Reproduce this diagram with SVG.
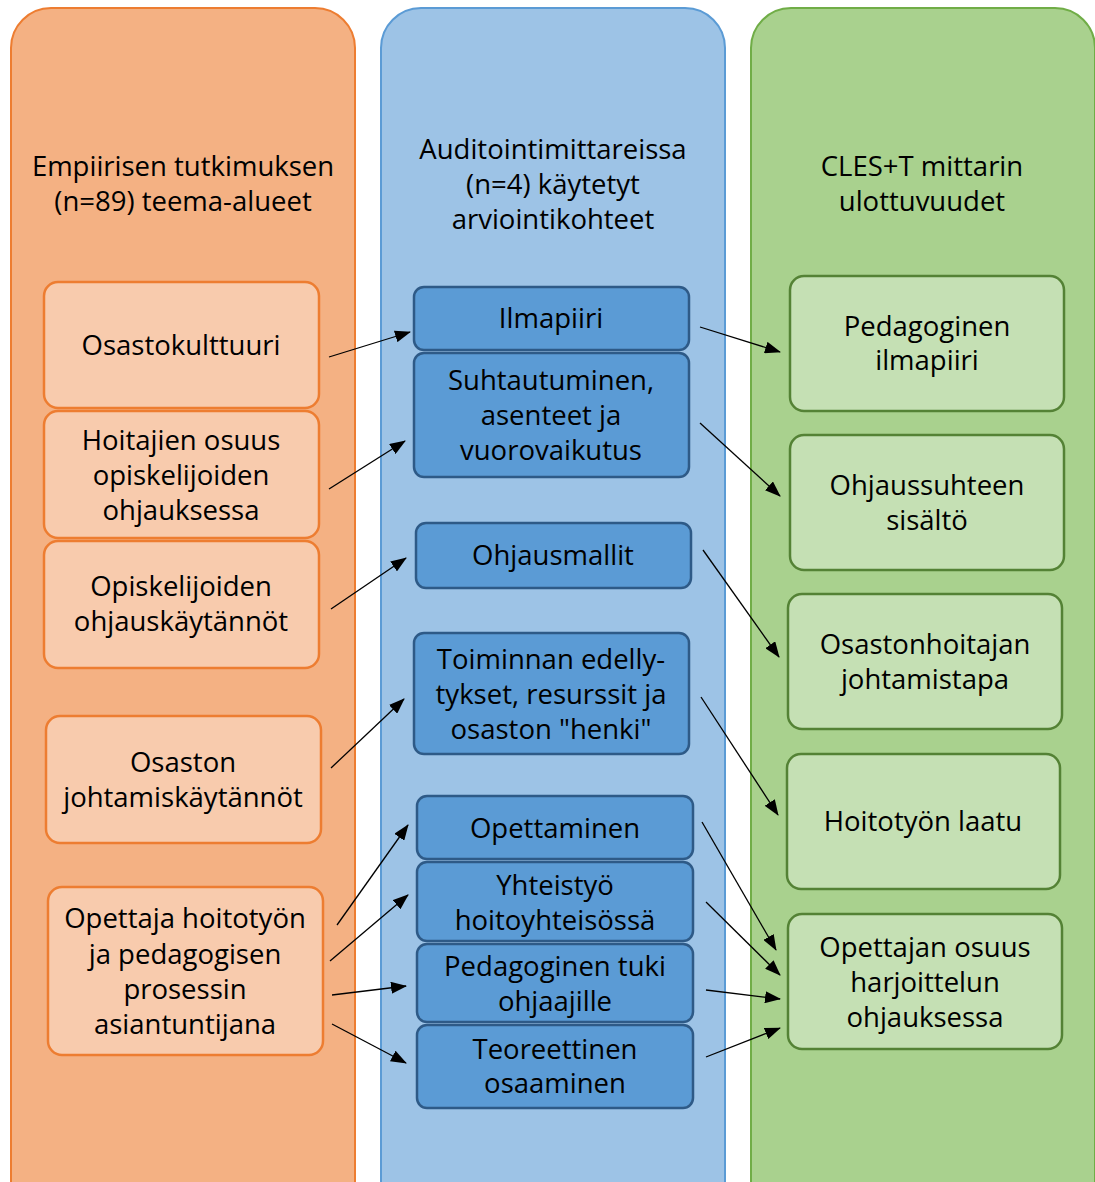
<svg xmlns="http://www.w3.org/2000/svg" width="1095" height="1182" viewBox="0 0 1095 1182">
<defs>
<style>
text{font-family:"Open Sans","Liberation Sans",sans-serif;font-size:27.5px;fill:#000;text-anchor:middle;dominant-baseline:central}
.colL{fill:#F4B183;stroke:#ED7D31;stroke-width:2}
.colM{fill:#9DC3E6;stroke:#5B9BD5;stroke-width:2}
.colR{fill:#A9D18E;stroke:#70AD47;stroke-width:2}
.nL{fill:#F8CBAD;stroke:#ED7D31;stroke-width:2.5}
.nM{fill:#5B9BD5;stroke:#2E5A87;stroke-width:2.5}
.nR{fill:#C5E0B4;stroke:#548235;stroke-width:2.5}
.c line{stroke:#000;stroke-width:1.3;marker-end:url(#ah)}
</style>
<marker id="ah" markerUnits="userSpaceOnUse" markerWidth="16" markerHeight="12" refX="15" refY="6" orient="auto">
<path d="M0,0 L16,6 L0,12 Z" fill="#000"/>
</marker>
</defs>
<g id="col-left"><rect class="colL" x="11" y="8" width="344" height="1220" rx="40"/>
<text x="183" y="165">Empiirisen tutkimuksen</text><text x="183" y="200">(n=89) teema-alueet</text></g>
<g id="col-mid"><rect class="colM" x="381" y="8" width="344" height="1220" rx="40"/>
<text x="553" y="148">Auditointimittareissa</text><text x="553" y="183">(n=4) käytetyt</text><text x="553" y="218">arviointikohteet</text></g>
<g id="col-right"><rect class="colR" x="751" y="8" width="344" height="1220" rx="40"/>
<text x="922" y="165">CLES+T mittarin</text><text x="922" y="200">ulottuvuudet</text></g>

<g id="l1"><rect class="nL" x="44" y="282" width="275" height="126" rx="14"/><text x="181" y="344">Osastokulttuuri</text></g>
<g id="l2"><rect class="nL" x="44" y="411" width="275" height="127" rx="14"/><text x="181" y="439">Hoitajien osuus</text><text x="181" y="474">opiskelijoiden</text><text x="181" y="509">ohjauksessa</text></g>
<g id="l3"><rect class="nL" x="44" y="541" width="275" height="127" rx="14"/><text x="181" y="585">Opiskelijoiden</text><text x="181" y="620">ohjauskäytännöt</text></g>
<g id="l4"><rect class="nL" x="46" y="716" width="275" height="127" rx="14"/><text x="183" y="761">Osaston</text><text x="183" y="796">johtamiskäytännöt</text></g>
<g id="l5"><rect class="nL" x="48" y="887" width="275" height="168" rx="14"/><text x="185" y="917">Opettaja hoitotyön</text><text x="185" y="953">ja pedagogisen</text><text x="185" y="988">prosessin</text><text x="185" y="1023">asiantuntijana</text></g>

<g id="m1"><rect class="nM" x="414" y="287" width="275" height="63" rx="10"/><text x="551" y="317">Ilmapiiri</text></g>
<g id="m2"><rect class="nM" x="414" y="353" width="275" height="124" rx="10"/><text x="551" y="379">Suhtautuminen,</text><text x="551" y="414">asenteet ja</text><text x="551" y="449">vuorovaikutus</text></g>
<g id="m3"><rect class="nM" x="416" y="523" width="275" height="65" rx="10"/><text x="553" y="554">Ohjausmallit</text></g>
<g id="m4"><rect class="nM" x="414" y="633" width="275" height="121" rx="10"/><text x="551" y="658">Toiminnan edelly-</text><text x="551" y="693">tykset, resurssit ja</text><text x="551" y="728">osaston "henki"</text></g>
<g id="m5"><rect class="nM" x="417" y="796" width="276" height="63" rx="10"/><text x="555" y="827">Opettaminen</text></g>
<g id="m6"><rect class="nM" x="417" y="862" width="276" height="79" rx="10"/><text x="555" y="884">Yhteistyö</text><text x="555" y="919">hoitoyhteisössä</text></g>
<g id="m7"><rect class="nM" x="417" y="944" width="276" height="78" rx="10"/><text x="555" y="965">Pedagoginen tuki</text><text x="555" y="1000">ohjaajille</text></g>
<g id="m8"><rect class="nM" x="417" y="1025" width="276" height="83" rx="10"/><text x="555" y="1048">Teoreettinen</text><text x="555" y="1082">osaaminen</text></g>

<g id="r1"><rect class="nR" x="790" y="276" width="274" height="135" rx="14"/><text x="927" y="325">Pedagoginen</text><text x="927" y="359">ilmapiiri</text></g>
<g id="r2"><rect class="nR" x="790" y="435" width="274" height="135" rx="14"/><text x="927" y="484">Ohjaussuhteen</text><text x="927" y="519">sisältö</text></g>
<g id="r3"><rect class="nR" x="788" y="594" width="274" height="135" rx="14"/><text x="925" y="643">Osastonhoitajan</text><text x="925" y="678">johtamistapa</text></g>
<g id="r4"><rect class="nR" x="787" y="754" width="273" height="135" rx="14"/><text x="923" y="820">Hoitotyön laatu</text></g>
<g id="r5"><rect class="nR" x="788" y="914" width="274" height="135" rx="14"/><text x="925" y="946">Opettajan osuus</text><text x="925" y="981">harjoittelun</text><text x="925" y="1016">ohjauksessa</text></g>

<g id="connectors" class="c">
<line x1="329" y1="357" x2="410" y2="332"/>
<line x1="329" y1="489" x2="405" y2="441"/>
<line x1="331" y1="609" x2="406" y2="558"/>
<line x1="331" y1="768" x2="404" y2="699"/>
<line x1="337" y1="925" x2="408" y2="825"/>
<line x1="330" y1="961" x2="408" y2="895"/>
<line x1="332" y1="995" x2="406" y2="986"/>
<line x1="332" y1="1024" x2="406" y2="1063"/>
<line x1="700" y1="327" x2="780" y2="352"/>
<line x1="700" y1="423" x2="780" y2="496"/>
<line x1="703" y1="550" x2="779" y2="657"/>
<line x1="701" y1="697" x2="778" y2="815"/>
<line x1="702" y1="822" x2="776" y2="950"/>
<line x1="706" y1="902" x2="780" y2="975"/>
<line x1="706" y1="990" x2="780" y2="999"/>
<line x1="706" y1="1057" x2="780" y2="1028"/>
</g>
</svg>
